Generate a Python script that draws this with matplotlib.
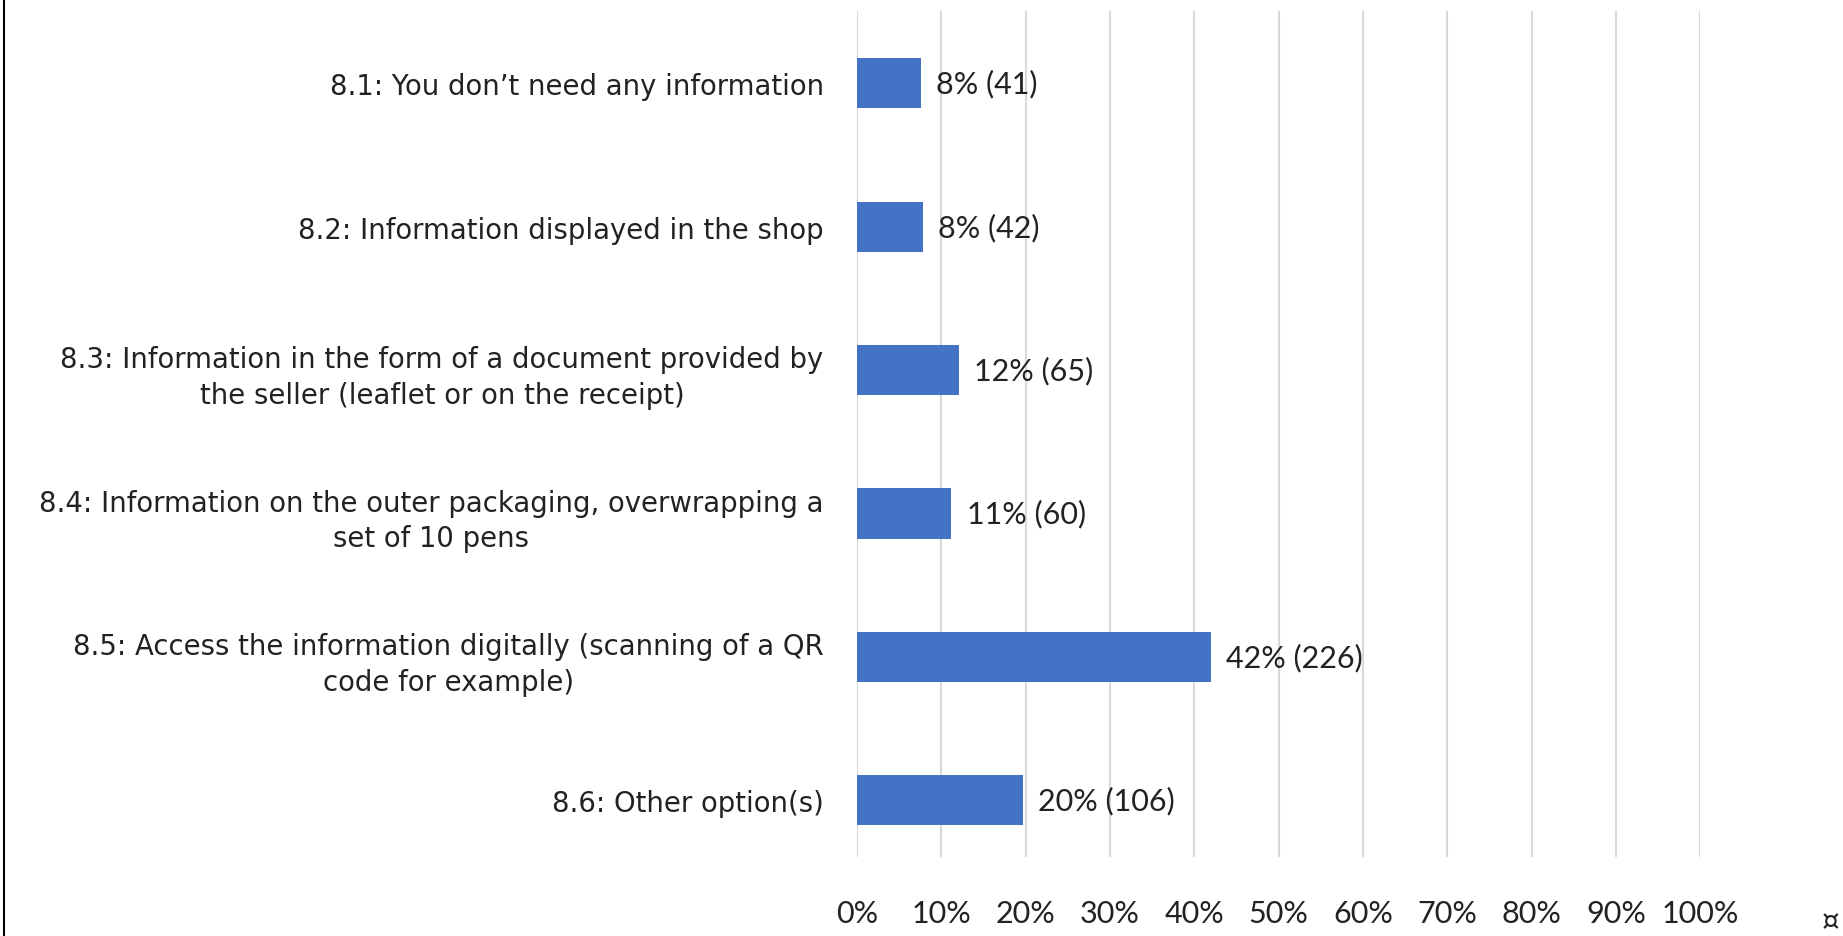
import matplotlib
matplotlib.use("Agg")
import matplotlib.pyplot as plt
from matplotlib.lines import Line2D
from matplotlib.ticker import PercentFormatter

categories = [
    "8.1: You don\u2019t need any information",
    "8.2: Information displayed in the shop",
    "8.3: Information in the form of a document provided by\nthe seller (leaflet or on the receipt)",
    "8.4: Information on the outer packaging, overwrapping a\nset of 10 pens",
    "8.5: Access the information digitally (scanning of a QR\ncode for example)",
    "8.6: Other option(s)",
]
shares = [0.076, 0.078, 0.121, 0.112, 0.420, 0.197]
counts = [41, 42, 65, 60, 226, 106]
pct_labels = ["8%", "8%", "12%", "11%", "42%", "20%"]

label_font = ["DejaVu Sans"]
value_font = ["Lato", "DejaVu Sans"]

fig = plt.figure(figsize=(18.43, 9.37), dpi=100)
ax = fig.add_axes([0.465, 0.0843, 0.4575, 0.9030])

pos = list(range(len(categories)))
ax.barh(pos, shares, height=0.35, color="#4472c4", zorder=3)

for p, s, c, t in zip(pos, shares, counts, pct_labels):
    ax.text(s + 0.018, p, f"{t} ({c})", va="center", ha="left",
            fontsize=22, family=value_font, color="#222222", zorder=4)

ax.set_xlim(0, 1.0)
ax.set_ylim(5.395, -0.505)
ax.set_xticks([i / 10 for i in range(11)])
ax.xaxis.set_major_formatter(PercentFormatter(1.0, decimals=0))
ax.set_yticks(pos)
ax.set_yticklabels(categories, family=label_font, fontsize=19.8,
                   color="#222222", multialignment="center", linespacing=1.35)
ax.tick_params(axis="y", length=0, pad=24)
ax.tick_params(axis="x", length=0, pad=30, labelsize=22, labelcolor="#222222")
for lbl in ax.get_xticklabels():
    lbl.set_family(value_font)

ax.grid(axis="x", color="#d9d9d9", linewidth=1.5, zorder=0)
for sp in ax.spines.values():
    sp.set_visible(False)

# page border at the left edge and the cell marker
fig.add_artist(Line2D([0.002, 0.002], [0, 1], transform=fig.transFigure,
                      color="black", linewidth=1.5))
fig.text(0.993, 0.016, "\u00a4", fontsize=20, family="DejaVu Sans",
         ha="center", va="center", color="#222222")

fig.savefig("out.png", dpi=100)
